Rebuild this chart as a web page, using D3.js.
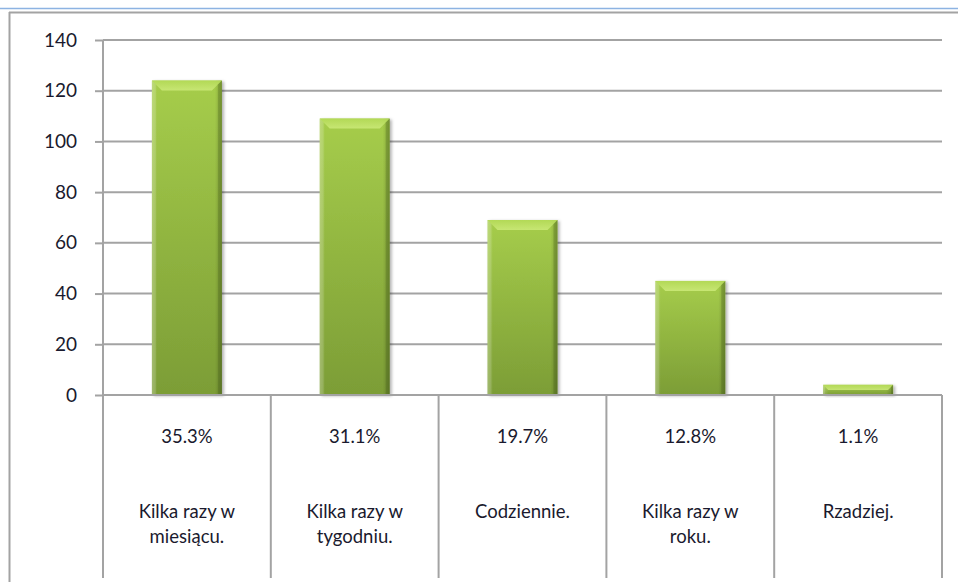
<!DOCTYPE html>
<html>
<head>
<meta charset="utf-8">
<script src="https://cdn.jsdelivr.net/npm/d3@7"></script>
<style>
  body { margin: 0; background: #fff; }
  svg { display: block; font-family: Lato, "Open Sans", sans-serif; }
</style>
</head>
<body>
<svg id="chart" width="958" height="582"></svg>
<script>
// data
const categories = ["Kilka razy w miesiącu.", "Kilka razy w tygodniu.", "Codziennie.", "Kilka razy w roku.", "Rzadziej."];
const labelLines = [["Kilka razy w", "miesiącu."], ["Kilka razy w", "tygodniu."], ["Codziennie."], ["Kilka razy w", "roku."], ["Rzadziej."]];
const counts = [124, 109, 69, 45, 4];
const percents = ["35.3%", "31.1%", "19.7%", "12.8%", "1.1%"];
const yTicks = [0, 20, 40, 60, 80, 100, 120, 140];

const w = 958, h = 582;
const margin = { top: 40, right: 16, bottom: 187, left: 103 };
const tableBottom = 578;
const barWidth = 70;
const gridColor = "#a3a3a3";
const textColor = "#1a1a2e";

const svg = d3.select("#chart");

// outer frame like the spreadsheet chart area
svg.append("line").attr("x1", 0).attr("x2", w).attr("y1", 8.5).attr("y2", 8.5)
    .attr("stroke", "#8db3e2").attr("stroke-width", 1.5);
svg.append("line").attr("x1", 9).attr("x2", w).attr("y1", 12.5).attr("y2", 12.5)
    .attr("stroke", gridColor).attr("stroke-width", 2);
svg.append("line").attr("x1", 9.5).attr("x2", 9.5).attr("y1", 12).attr("y2", h)
    .attr("stroke", gridColor).attr("stroke-width", 2);

const xScale = d3.scaleBand()
    .domain(categories)
    .range([margin.left, w - margin.right])
    .padding(0);

const yScale = d3.scaleLinear()
    .domain([0, 140])
    .range([h - margin.bottom, margin.top]);

// gradients and shadow
const defs = svg.append("defs");
const grad = defs.append("linearGradient").attr("id", "barGrad")
    .attr("x1", 0).attr("y1", 0).attr("x2", 0).attr("y2", 1);
grad.append("stop").attr("offset", "0%").attr("stop-color", "#a6cd4b");
grad.append("stop").attr("offset", "100%").attr("stop-color", "#7c9d36");

const sideGrad = defs.append("linearGradient").attr("id", "sideGrad")
    .attr("x1", 0).attr("y1", 0).attr("x2", 1).attr("y2", 0);
sideGrad.append("stop").attr("offset", "0%").attr("stop-color", "#ffffff").attr("stop-opacity", 0.18);
sideGrad.append("stop").attr("offset", "8%").attr("stop-color", "#ffffff").attr("stop-opacity", 0);
sideGrad.append("stop").attr("offset", "90%").attr("stop-color", "#000000").attr("stop-opacity", 0);
sideGrad.append("stop").attr("offset", "100%").attr("stop-color", "#000000").attr("stop-opacity", 0.2);

const bevelGrad = defs.append("linearGradient").attr("id", "bevelGrad")
    .attr("x1", 0).attr("y1", 0).attr("x2", 0).attr("y2", 1);
bevelGrad.append("stop").attr("offset", "0%").attr("stop-color", "#b4da57");
bevelGrad.append("stop").attr("offset", "100%").attr("stop-color", "#cbe978");

const shadow = defs.append("filter").attr("id", "shadow")
    .attr("x", "-20%").attr("y", "-20%").attr("width", "140%").attr("height", "140%");
shadow.append("feDropShadow").attr("dx", 2).attr("dy", 1).attr("stdDeviation", 1.5)
    .attr("flood-color", "#000").attr("flood-opacity", 0.3);

// gridlines
svg.append("g")
    .selectAll("line")
    .data(yTicks)
    .join("line")
    .attr("x1", margin.left)
    .attr("x2", w - margin.right)
    .attr("y1", d => yScale(d))
    .attr("y2", d => yScale(d))
    .attr("stroke", gridColor)
    .attr("stroke-width", 2);

// y axis
let yAxis = g => g
    .attr("transform", `translate(${margin.left},0)`)
    .call(d3.axisLeft(yScale).tickValues(yTicks).tickSize(8).tickPadding(18).tickSizeOuter(0))
    .call(g => g.select(".domain").remove())
    .call(g => g.selectAll(".tick line").attr("stroke", gridColor).attr("stroke-width", 2))
    .call(g => g.selectAll(".tick text")
        .attr("font-size", 19)
        .attr("font-family", "Lato, 'Open Sans', sans-serif")
        .attr("fill", textColor));

svg.append("g").call(yAxis);

// table lines below the plot (category dividers)
const bounds = categories.map(c => xScale(c)).concat([xScale.range()[1]]);
svg.append("g")
    .selectAll("line")
    .data(bounds)
    .join("line")
    .attr("x1", d => d)
    .attr("x2", d => d)
    .attr("y1", (d, i) => i === 0 ? margin.top : yScale(0))
    .attr("y2", tableBottom)
    .attr("stroke", gridColor)
    .attr("stroke-width", 2);

// bars
const bars = svg.append("g")
    .selectAll("g")
    .data(categories.map((c, i) => ({ cat: c, value: counts[i] })))
    .join("g");

const bx = d => xScale(d.cat) + (xScale.bandwidth() - barWidth) / 2;
const bevel = 10;

bars.append("rect")
    .attr("x", bx)
    .attr("y", d => yScale(d.value))
    .attr("width", barWidth)
    .attr("height", d => yScale(0) - yScale(d.value))
    .attr("fill", "url(#barGrad)")
    .attr("filter", "url(#shadow)");

bars.append("rect")
    .attr("x", bx)
    .attr("y", d => yScale(d.value))
    .attr("width", barWidth)
    .attr("height", d => yScale(0) - yScale(d.value))
    .attr("fill", "url(#sideGrad)");

// top bevel
bars.append("path")
    .attr("d", d => {
        const x0 = bx(d), x1 = x0 + barWidth, y0 = yScale(d.value);
        const b = Math.min(bevel, (yScale(0) - y0) / 2);
        return `M${x0},${y0}L${x1},${y0}L${x1 - b},${y0 + b}L${x0 + b},${y0 + b}Z`;
    })
    .attr("fill", "url(#bevelGrad)")
    .attr("opacity", 0.9);

// side bevels
bars.append("path")
    .attr("d", d => {
        const x0 = bx(d), y0 = yScale(d.value), y1 = yScale(0);
        const b = Math.min(bevel, (y1 - y0) / 2) * 0.4;
        return `M${x0},${y0}L${x0 + b},${y0 + b}L${x0 + b},${y1}L${x0},${y1}Z`;
    })
    .attr("fill", "#ffffff")
    .attr("opacity", 0.12);

bars.append("path")
    .attr("d", d => {
        const x1 = bx(d) + barWidth, y0 = yScale(d.value), y1 = yScale(0);
        const b = Math.min(bevel, (y1 - y0) / 2) * 0.4;
        return `M${x1},${y0}L${x1 - b},${y0 + b}L${x1 - b},${y1}L${x1},${y1}Z`;
    })
    .attr("fill", "#3d5212")
    .attr("opacity", 0.25);

// redraw the zero line over the bar bottoms
svg.append("line")
    .attr("x1", margin.left).attr("x2", w - margin.right)
    .attr("y1", yScale(0)).attr("y2", yScale(0))
    .attr("stroke", gridColor).attr("stroke-width", 2);

// table texts
const table = svg.append("g")
    .attr("font-size", 18.5)
    .attr("fill", textColor)
    .attr("text-anchor", "middle");

table.selectAll("text.pct")
    .data(percents)
    .join("text")
    .attr("class", "pct")
    .attr("x", (d, i) => xScale(categories[i]) + xScale.bandwidth() / 2)
    .attr("y", 443)
    .text(d => d);

table.selectAll("text.cat")
    .data(labelLines)
    .join("text")
    .attr("class", "cat")
    .attr("x", (d, i) => xScale(categories[i]) + xScale.bandwidth() / 2)
    .attr("y", 518)
    .selectAll("tspan")
    .data(d => d)
    .join("tspan")
    .attr("x", function () { return this.parentNode.getAttribute("x"); })
    .attr("dy", (d, i) => i === 0 ? 0 : 25)
    .text(d => d);
</script>
</body>
</html>
